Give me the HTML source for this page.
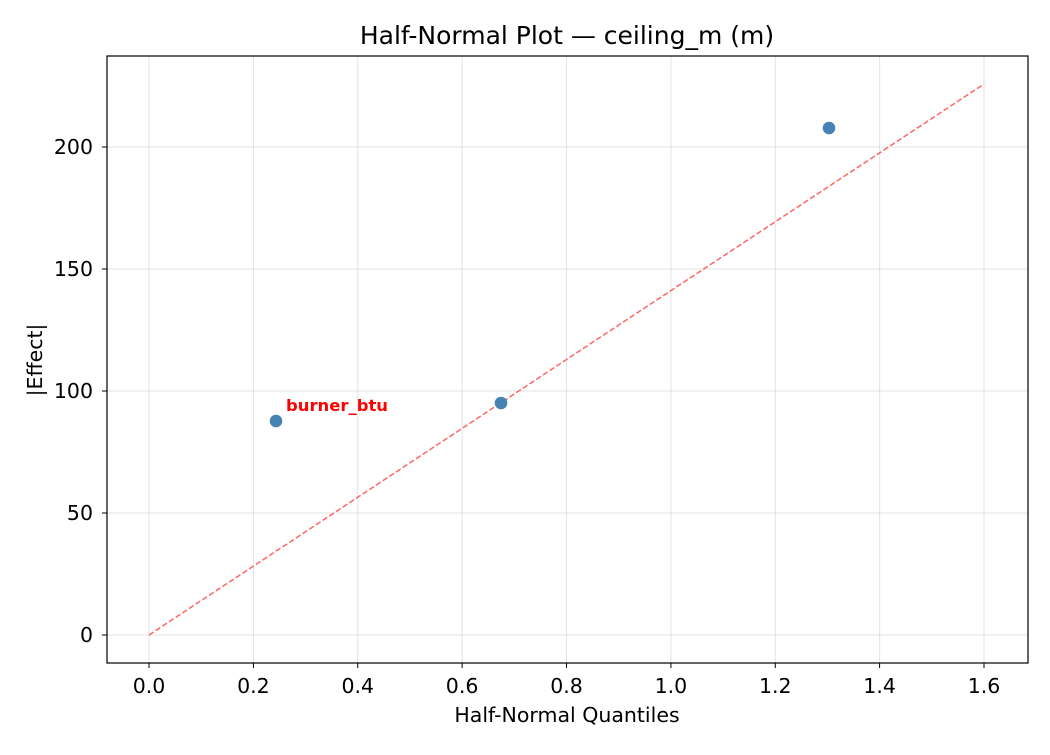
<!DOCTYPE html>
<html><head><meta charset="utf-8"><style>
body{margin:0;background:#fff}
svg text{font-family:"DejaVu Sans","Liberation Sans",sans-serif;fill:#000}
</style></head><body>
<svg width="1050" height="750" xmlns="http://www.w3.org/2000/svg">
<rect width="1050" height="750" fill="#fff"/>
<g stroke="#b0b0b0" stroke-opacity="0.35" stroke-width="1">
<line x1="149" y1="56" x2="149" y2="663"/>
<line x1="253.4" y1="56" x2="253.4" y2="663"/>
<line x1="357.75" y1="56" x2="357.75" y2="663"/>
<line x1="462.1" y1="56" x2="462.1" y2="663"/>
<line x1="566.5" y1="56" x2="566.5" y2="663"/>
<line x1="670.9" y1="56" x2="670.9" y2="663"/>
<line x1="775.25" y1="56" x2="775.25" y2="663"/>
<line x1="879.6" y1="56" x2="879.6" y2="663"/>
<line x1="984" y1="56" x2="984" y2="663"/>
<line x1="107" y1="635" x2="1028" y2="635"/>
<line x1="107" y1="513" x2="1028" y2="513"/>
<line x1="107" y1="391" x2="1028" y2="391"/>
<line x1="107" y1="269" x2="1028" y2="269"/>
<line x1="107" y1="147" x2="1028" y2="147"/>
</g>
<line x1="149" y1="635" x2="984" y2="84" stroke="#ff5555" stroke-opacity="0.9" stroke-width="1.5" stroke-dasharray="5.5,2.5"/>
<g fill="#4682b4">
<circle cx="276" cy="421" r="6.3"/>
<circle cx="501" cy="403" r="6.3"/>
<circle cx="829" cy="128" r="6.3"/>
</g>
<text x="286" y="411" font-size="16" font-weight="bold" style="fill:#ff0000" textLength="102" lengthAdjust="spacingAndGlyphs">burner_btu</text>
<rect x="107" y="56" width="921" height="607" fill="none" stroke="#000" stroke-width="1.2"/>
<g stroke="#000" stroke-width="1">
<line x1="149" y1="663" x2="149" y2="668"/><line x1="253.4" y1="663" x2="253.4" y2="668"/>
<line x1="357.75" y1="663" x2="357.75" y2="668"/><line x1="462.1" y1="663" x2="462.1" y2="668"/>
<line x1="566.5" y1="663" x2="566.5" y2="668"/><line x1="670.9" y1="663" x2="670.9" y2="668"/>
<line x1="775.25" y1="663" x2="775.25" y2="668"/><line x1="879.6" y1="663" x2="879.6" y2="668"/>
<line x1="984" y1="663" x2="984" y2="668"/>
<line x1="102" y1="635" x2="107" y2="635"/><line x1="102" y1="513" x2="107" y2="513"/>
<line x1="102" y1="391" x2="107" y2="391"/><line x1="102" y1="269" x2="107" y2="269"/>
<line x1="102" y1="147" x2="107" y2="147"/>
</g>
<g font-size="20.5" text-anchor="middle">
<text x="149" y="693">0.0</text><text x="253.4" y="693">0.2</text><text x="357.75" y="693">0.4</text>
<text x="462.1" y="693">0.6</text><text x="566.5" y="693">0.8</text><text x="670.9" y="693">1.0</text>
<text x="775.25" y="693">1.2</text><text x="879.6" y="693">1.4</text><text x="984" y="693">1.6</text>
<text x="567" y="722">Half-Normal Quantiles</text>
</g>
<g font-size="20.5" text-anchor="end">
<text x="93" y="642">0</text><text x="93" y="520">50</text><text x="93" y="398">100</text>
<text x="93" y="276">150</text><text x="93" y="154">200</text>
</g>
<text transform="translate(42,360) rotate(-90)" font-size="20.5" text-anchor="middle">|Effect|</text>
<text x="567" y="44" font-size="25" text-anchor="middle">Half-Normal Plot — ceiling_m (m)</text>
</svg>
</body></html>
